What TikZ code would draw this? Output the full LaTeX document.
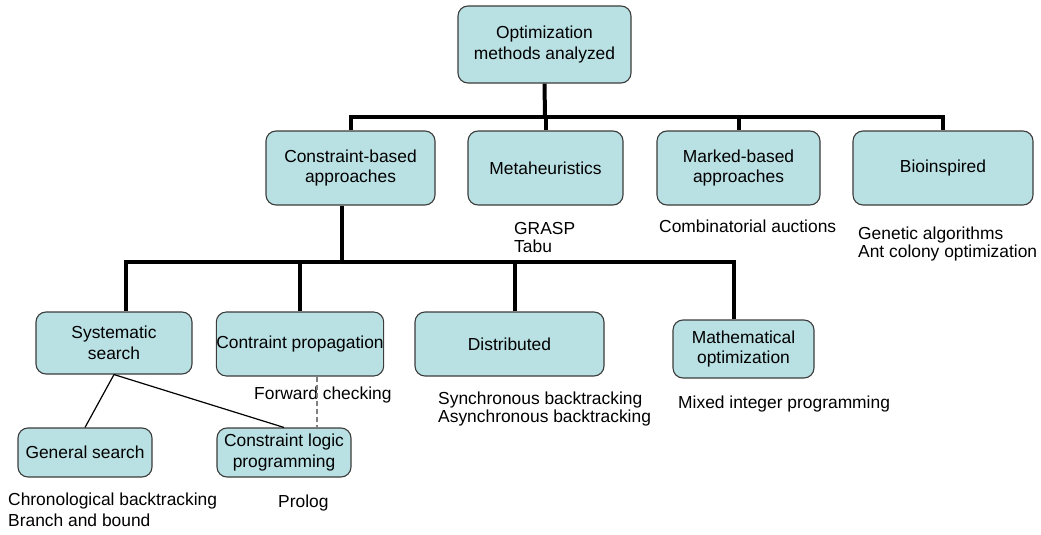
\documentclass[tikz,border=0pt]{standalone}
\usepackage{fontspec}
\setmainfont{Liberation Sans}
\definecolor{boxfill}{RGB}{185,224,227}
\definecolor{boxdraw}{RGB}{60,60,60}
\begin{document}
\begin{tikzpicture}[x=1pt,y=-1pt,
  box/.style={draw=boxdraw, fill=boxfill, line width=1.1pt, rounded corners=10pt,
    inner sep=0pt, align=center, font=\fontsize{17.4}{20.5}\selectfont},
  lbl/.style={inner sep=0pt, align=left, anchor=west, font=\fontsize{17.4}{18}\selectfont},
  tree/.style={line width=4pt},
  thinline/.style={line width=1.2pt, black},
  dash line/.style={line width=1.5pt, gray, dash pattern=on 5pt off 3pt}]
\useasboundingbox (0,0) rectangle (1041,535);

% boxes
\node[box, minimum width=173pt, minimum height=77pt] (top) at (544.5,44.5) {Optimization\\methods analyzed};
\node[box, minimum width=169pt, minimum height=74pt] (cb) at (350.5,168) {Constraint-based\\approaches};
\node[box, minimum width=155pt, minimum height=74pt] (meta) at (545.5,168) {Metaheuristics};
\node[box, minimum width=163pt, minimum height=74pt] (mark) at (738.5,168) {Marked-based\\approaches};
\node[box, minimum width=180pt, minimum height=74pt] (bio) at (943,168) {Bioinspired};
\node[box, minimum width=156pt, minimum height=62pt] (sys) at (114,343) {Systematic\\search};
\node[box, minimum width=166pt, minimum height=64pt] (cp) at (300,344) {Contraint propagation};
\node[box, minimum width=189pt, minimum height=64pt] (dist) at (509.5,344) {Distributed};
\node[box, minimum width=141pt, minimum height=58pt] (math) at (743.5,349) {Mathematical\\optimization};
\node[box, minimum width=134pt, minimum height=49pt] (gen) at (85,452.5) {General search};
\node[box, minimum width=134pt, minimum height=49pt] (clp) at (284,452.5) {Constraint logic\\programming};

% labels
\node[lbl] (l1) at (514,237.5) {GRASP\\Tabu};
\node[lbl] (l2) at (659,226) {Combinatorial auctions};
\node[lbl] (l3) at (858,244) {Genetic algorithms\\Ant colony optimization};
\node[lbl] (l4) at (254,395) {Forward checking};
\node[lbl] (l5) at (438,408.5) {Synchronous backtracking\\Asynchronous backtracking};
\node[lbl] (l6) at (678,404) {Mixed integer programming};
\node[lbl, font=\fontsize{17.4}{21}\selectfont] (l7) at (8,509.5) {Chronological backtracking\\Branch and bound};
\node[lbl] (l8) at (278,503) {Prolog};

% upper tree
\coordinate (b1) at (545,117);
\draw[tree] (top.south) -- (b1);
\draw[tree] (cb.north) -- (cb.north |- b1) -- (bio.north |- b1) -- (bio.north);
\draw[tree] (meta.north) -- (meta.north |- b1);
\draw[tree] (mark.north) -- (mark.north |- b1);

% lower tree
\coordinate (b2) at (342,262);
\draw[tree] ([xshift=-8.5pt]cb.south) -- (b2);
\draw[tree] ([xshift=12pt]sys.north) |- ([xshift=-9.5pt]math.north |- b2) -- ([xshift=-9.5pt]math.north);
\draw[tree] (cp.north) -- (cp.north |- b2);
\draw[tree] ([xshift=5.5pt]dist.north) -- ([xshift=5.5pt]dist.north |- b2);

% thin connectors
\draw[thinline] (sys.south) -- (gen.north);
\draw[thinline] (sys.south) -- (clp.north);
\draw[dash line] ([xshift=17pt]cp.south) -- ([xshift=33pt]clp.north);
\end{tikzpicture}
\end{document}
